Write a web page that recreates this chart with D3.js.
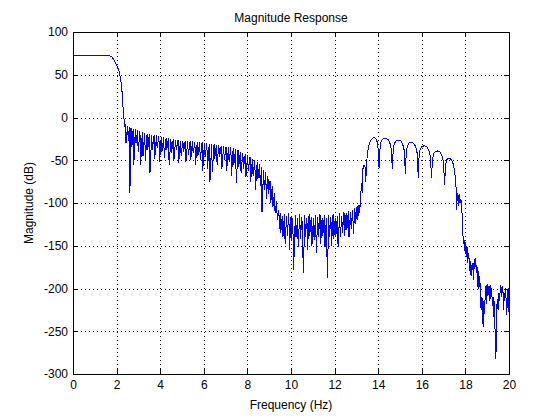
<!DOCTYPE html>
<html>
<head>
<meta charset="utf-8">
<script src="https://cdn.jsdelivr.net/npm/d3@7"></script>
<style>
  body { margin: 0; background: #fff; }
  svg { font-family: "Liberation Sans", Arial, sans-serif; }
</style>
</head>
<body>
<svg width="560" height="420"></svg>
<script>
// ticks
const xTicks = [0, 2, 4, 6, 8, 10, 12, 14, 16, 18, 20];
const yTicks = [-300, -250, -200, -150, -100, -50, 0, 50, 100];

// passband and first roll-off
const passHz = [0, 0.5, 1.0, 1.5, 1.7, 1.8, 1.9, 2.0, 2.1, 2.15, 2.2, 2.25, 2.3, 2.35, 2.38];
const passDb = [72.5, 72.5, 72.5, 72.4, 72, 70.5, 66.5, 61.5, 55, 50, 42, 30, 10, -5, -10];

// first stopband ripple (peak, null pairs)
const stop1Hz = [
  2.40, 2.43, 2.50, 2.54, 2.58, 2.61, 2.66, 2.70, 2.76, 2.79, 2.86, 2.89, 2.96, 2.99,
  3.07, 3.10, 3.18, 3.21, 3.29, 3.32, 3.40, 3.43, 3.50, 3.53, 3.61, 3.64, 3.72, 3.75,
  3.83, 3.86, 3.94, 3.97, 4.05, 4.08, 4.16, 4.19, 4.27, 4.30, 4.38, 4.41, 4.49, 4.52,
  4.60, 4.63, 4.71, 4.74, 4.82, 4.85, 4.93, 4.96, 5.04, 5.07, 5.15, 5.18, 5.26, 5.29,
  5.37, 5.40, 5.48, 5.51, 5.59, 5.62, 5.70, 5.73, 5.81, 5.84, 5.92, 5.95, 6.03, 6.06,
  6.14, 6.17, 6.25, 6.28, 6.36, 6.39, 6.47, 6.50, 6.58, 6.61, 6.69, 6.72, 6.80, 6.83,
  6.91, 6.94, 7.02, 7.05, 7.13, 7.16, 7.24, 7.27, 7.35, 7.38, 7.46, 7.49, 7.57, 7.60,
  7.68, 7.71, 7.79, 7.82, 7.90, 7.93, 8.01, 8.04, 8.12, 8.15, 8.23, 8.26, 8.34, 8.37,
  8.45, 8.48, 8.56, 8.59, 8.65, 8.67, 8.74, 8.77, 8.84, 8.87, 8.94, 8.97, 9.04, 9.07,
  9.14, 9.17, 9.24, 9.27, 9.34, 9.37, 9.44, 9.47
];
const stop1Db = [
  -9, -30, -10, -28, -11, -88, -12, -35, -13, -55, -14, -30, -15, -40,
  -16, -55, -17, -45, -18, -50, -19, -38, -19, -65, -20, -38, -21, -48,
  -21, -36, -22, -52, -23, -40, -23, -47, -24, -38, -24, -55, -25, -42,
  -25, -50, -26, -38, -26, -53, -27, -45, -27, -40, -27, -52, -28, -44,
  -28, -50, -28, -42, -29, -55, -29, -45, -29, -50, -29, -62, -30, -46,
  -30, -60, -31, -76, -31, -64, -31, -48, -32, -55, -32, -46, -33, -60,
  -33, -50, -34, -62, -35, -52, -35, -68, -36, -55, -37, -77, -38, -58,
  -40, -65, -41, -60, -43, -70, -44, -62, -46, -75, -48, -68, -50, -85,
  -52, -72, -55, -80, -58, -110, -61, -85, -64, -95, -68, -90, -74, -100,
  -80, -105, -88, -112, -98, -120, -108, -130
];

// noise floor between the bands
const floorHz = [
  9.50, 9.53, 9.60, 9.63, 9.70, 9.73, 9.80, 9.83, 9.90, 9.93, 10.00, 10.03, 10.08, 10.12,
  10.20, 10.23, 10.30, 10.33, 10.40, 10.43, 10.50, 10.57, 10.63, 10.66, 10.73, 10.76,
  10.83, 10.86, 10.93, 10.96, 11.03, 11.06, 11.13, 11.16, 11.23, 11.26, 11.33, 11.36,
  11.43, 11.46, 11.53, 11.56, 11.62, 11.67, 11.73, 11.76, 11.83, 11.86, 11.93, 11.96,
  12.03, 12.06, 12.13, 12.16, 12.23, 12.26, 12.33, 12.36, 12.43, 12.46, 12.53, 12.56,
  12.63, 12.66, 12.73, 12.76, 12.83, 12.86, 12.93, 12.96, 13.03, 13.06, 13.12, 13.15
];
const floorDb = [
  -112, -135, -115, -140, -113, -148, -115, -138, -112, -155, -116, -145, -117, -178,
  -114, -140, -118, -152, -113, -142, -116, -182, -114, -140, -118, -155,
  -113, -138, -116, -150, -117, -143, -114, -158, -116, -140, -113, -148,
  -117, -138, -114, -152, -118, -188, -114, -140, -116, -150, -113, -142,
  -117, -138, -115, -152, -112, -140, -115, -135, -110, -138, -112, -132,
  -109, -140, -111, -130, -108, -136, -106, -125, -104, -120, -102, -112
];

// second passband lobes
const lobeHz = [
  13.20, 13.24, 13.27, 13.30, 13.35, 13.40, 13.43, 13.47, 13.52, 13.58, 13.65, 13.73, 13.82, 13.90, 13.96, 14.00, 14.04,
  14.07, 14.12, 14.20, 14.33, 14.45, 14.53, 14.59, 14.65,
  14.68, 14.73, 14.81, 14.92, 15.04, 15.12, 15.19, 15.25,
  15.28, 15.33, 15.41, 15.52, 15.64, 15.72, 15.78, 15.84,
  15.87, 15.92, 16.00, 16.12, 16.24, 16.32, 16.39, 16.45,
  16.48, 16.53, 16.61, 16.71, 16.83, 16.92, 16.99, 17.05,
  17.08, 17.13, 17.20, 17.28, 17.38, 17.46, 17.53, 17.58, 17.60, 17.63, 17.67, 17.70,
  17.73, 17.77, 17.80, 17.83, 17.86, 17.88, 17.90
];
const lobeDb = [
  -90, -77, -88, -60, -56, -58, -75, -52, -40, -32, -27, -24.5, -23.5, -25, -29, -38, -59,
  -40, -29, -25.5, -24.3, -25.5, -29, -36, -60,
  -42, -31, -27.5, -26.3, -27.5, -31, -38, -66,
  -45, -34, -30, -29, -30.5, -34, -41, -71,
  -48, -38, -34, -33, -34.5, -38, -45, -71,
  -52, -43, -40, -39, -40.5, -44, -52, -79,
  -58, -50, -48, -47.5, -50, -56, -68, -85, -108, -88, -92, -104,
  -90, -100, -96, -108, -115, -132, -145
];

// upper stopband
const stop2Hz = [
  17.92, 17.94, 17.96, 17.99, 18.02, 18.05, 18.08, 18.11, 18.14, 18.17, 18.20, 18.23,
  18.26, 18.29, 18.32, 18.35, 18.38, 18.41, 18.44, 18.47, 18.50, 18.53, 18.56, 18.59,
  18.62, 18.65, 18.68, 18.72, 18.76, 18.80, 18.82, 18.85, 18.88, 18.91, 18.95, 18.98,
  19.01, 19.04, 19.07, 19.10, 19.13, 19.17, 19.20, 19.24, 19.27, 19.30, 19.33, 19.36,
  19.40, 19.43, 19.46, 19.50, 19.53, 19.57, 19.60, 19.63, 19.66, 19.69, 19.72, 19.75,
  19.78, 19.81, 19.84, 19.87, 19.90, 19.93, 19.96, 20.00
];
const stop2Db = [
  -140, -150, -143, -160, -146, -163, -152, -170, -158, -166, -180, -168,
  -185, -172, -178, -170, -190, -166, -175, -164, -182, -172, -198, -180,
  -200, -186, -198, -225, -210, -240, -245, -215, -230, -205, -196, -218,
  -195, -208, -197, -215, -196, -212, -200, -220, -210, -233, -215, -250,
  -282, -230, -212, -225, -205, -215, -198, -196, -210, -197, -200, -225,
  -205, -215, -200, -215, -231, -205, -200, -228
];

const freqHz = [].concat(passHz, stop1Hz, floorHz, lobeHz, stop2Hz);
const magDb = [].concat(passDb, stop1Db, floorDb, lobeDb, stop2Db);

const plot = { left: 73, top: 32, right: 509, bottom: 374 };

const svg = d3.select('svg');

const x = d3.scaleLinear().domain([0, 20]).range([plot.left, plot.right]);
const y = d3.scaleLinear().domain([-300, 100]).range([plot.bottom, plot.top]);

// dotted grid
const gGrid = svg.append('g')
  .attr('stroke', '#000')
  .attr('stroke-width', 1)
  .attr('stroke-dasharray', '1,3')
  .attr('shape-rendering', 'crispEdges');

gGrid.selectAll('line.gx')
  .data(xTicks.slice(1, -1))
  .join('line')
  .attr('class', 'gx')
  .attr('x1', d => Math.round(x(d)) + 0.5)
  .attr('x2', d => Math.round(x(d)) + 0.5)
  .attr('y1', plot.top)
  .attr('y2', plot.bottom);

gGrid.selectAll('line.gy')
  .data(yTicks.slice(1, -1))
  .join('line')
  .attr('class', 'gy')
  .attr('y1', d => Math.round(y(d)) + 0.5)
  .attr('y2', d => Math.round(y(d)) + 0.5)
  .attr('x1', plot.left)
  .attr('x2', plot.right);

// response trace, aliased like the original renderer
const line = d3.line()
  .x((d, i) => x(freqHz[i]))
  .y((d, i) => y(magDb[i]));

svg.append('path')
  .datum(magDb)
  .attr('fill', 'none')
  .attr('stroke', '#0000ff')
  .attr('stroke-width', 1)
  .attr('shape-rendering', 'crispEdges')
  .attr('d', line);

// axes, ticks pointing inwards
const fmt = d => String(d);

const styleAxis = g => {
  g.attr('font-family', '"Liberation Sans", Arial, sans-serif')
   .attr('font-size', 12)
   .attr('shape-rendering', 'crispEdges');
  g.select('.domain').remove();
  g.selectAll('.tick line').attr('stroke', '#000');
  g.selectAll('.tick text').attr('fill', '#000');
};

svg.append('g')
  .attr('transform', `translate(0,${plot.bottom})`)
  .call(d3.axisBottom(x).tickValues(xTicks).tickSize(-5).tickPadding(6).tickFormat(fmt))
  .call(styleAxis);

svg.append('g')
  .attr('transform', `translate(0,${plot.top})`)
  .call(d3.axisTop(x).tickValues(xTicks).tickSize(-5).tickFormat(''))
  .call(styleAxis);

svg.append('g')
  .attr('transform', `translate(${plot.left},0)`)
  .call(d3.axisLeft(y).tickValues(yTicks).tickSize(-5).tickPadding(5).tickFormat(fmt))
  .call(styleAxis);

svg.append('g')
  .attr('transform', `translate(${plot.right},0)`)
  .call(d3.axisRight(y).tickValues(yTicks).tickSize(-5).tickFormat(''))
  .call(styleAxis);

// axes box
svg.append('rect')
  .attr('x', plot.left + 0.5)
  .attr('y', plot.top + 0.5)
  .attr('width', plot.right - plot.left)
  .attr('height', plot.bottom - plot.top)
  .attr('fill', 'none')
  .attr('stroke', '#000')
  .attr('shape-rendering', 'crispEdges');

// labels
svg.append('text')
  .attr('x', (plot.left + plot.right) / 2)
  .attr('y', 22)
  .attr('text-anchor', 'middle')
  .attr('font-size', 12)
  .text('Magnitude Response');

svg.append('text')
  .attr('x', (plot.left + plot.right) / 2)
  .attr('y', 409)
  .attr('text-anchor', 'middle')
  .attr('font-size', 12)
  .text('Frequency (Hz)');

svg.append('text')
  .attr('transform', `translate(33,${(plot.top + plot.bottom) / 2}) rotate(-90)`)
  .attr('text-anchor', 'middle')
  .attr('font-size', 12)
  .text('Magnitude (dB)');
</script>
</body>
</html>
